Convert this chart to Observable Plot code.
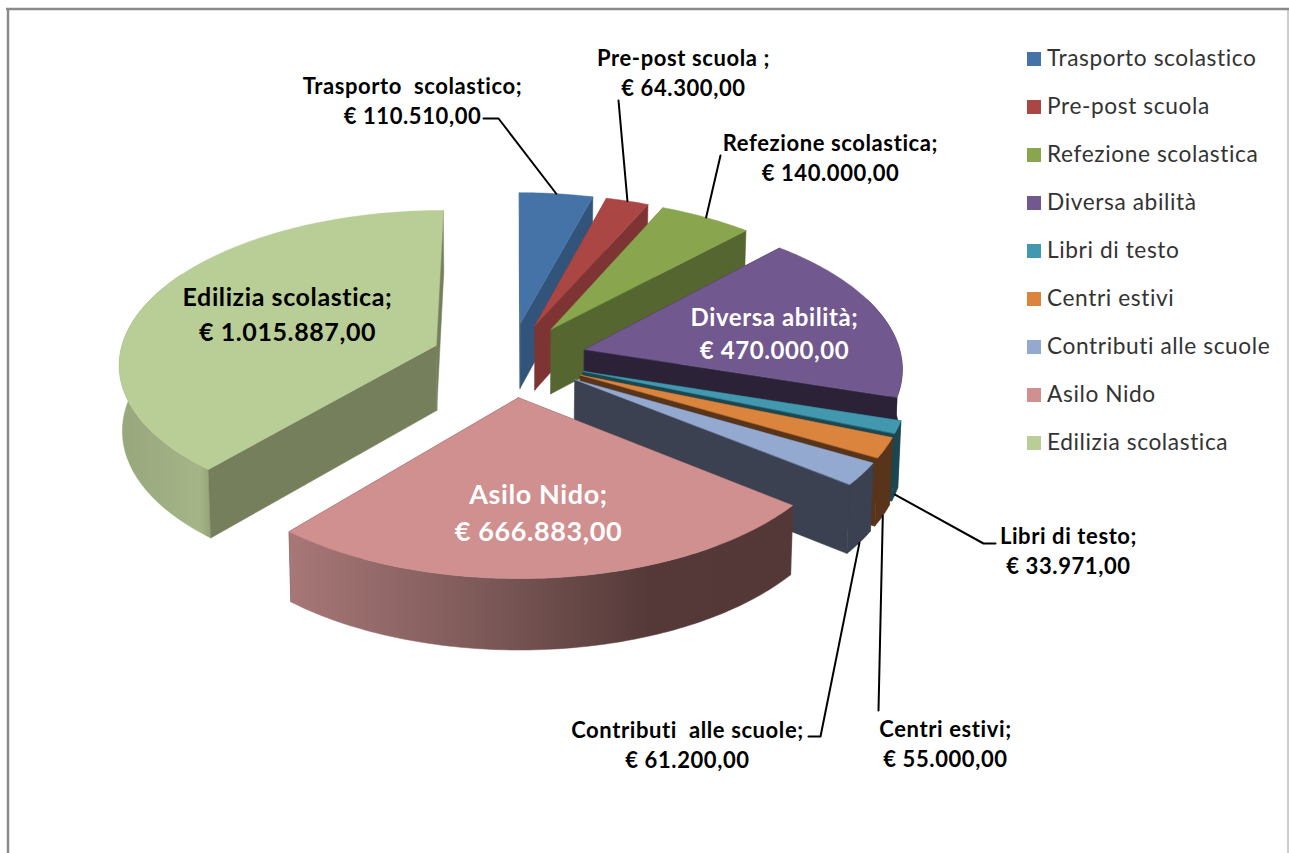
<!DOCTYPE html>
<html><head><meta charset="utf-8">
<script src="https://cdn.jsdelivr.net/npm/d3@7"></script>
<script src="https://cdn.jsdelivr.net/npm/@observablehq/plot@0.6"></script>
<style>html,body{margin:0;background:#fff}svg{display:block}</style>
</head><body><div id="chart"></div>
<script>
const names = ["Trasporto scolastico","Pre-post scuola","Refezione scolastica","Diversa abilità","Libri di testo","Centri estivi","Contributi alle scuole","Asilo Nido","Edilizia scolastica"];
const labelNames = ["Trasporto  scolastico;","Pre-post scuola ;","Refezione scolastica;","Diversa abilità;","Libri di testo;","Centri estivi;","Contributi  alle scuole;","Asilo Nido;","Edilizia scolastica;"];
const values = [110510,64300,140000,470000,33971,55000,61200,666883,1015887];
const topColors = ["#4572a7","#aa4643","#89a54e","#71588f","#4198af","#db843d","#93a9cf","#d09090","#b9cd96"];
const wallColors = ["#32547b","#7d3432","#556630","#2c2238","#1c4650","#58341a","#3b4150","#533837","#757f5b"];
const explosion = [75,75,75,77,77,77,77,80,80];
// layout of the labels: text centre, font size, colour, leader bend points
const labelAt = [[412,99],[683,71],[830,156],[774,331],[1068,549],[945,742],[687,743],[538,510],[287,312]];
const labelSize = [22,22,22,24,22,22,22,27,25];
const labelFill = ["#000","#000","#000","#fff","#000","#000","#000","#fff","#000"];
const leaderBends = [[[483,118],[498,118]],[[618,100]],[[720,155]],[],[[995,543],[983,543]],[[878,710]],[[808,736],[820,736]],[],[]];
const leaderFoot = [0,0,0,null,1,1,1,null,null]; // 0: top rim, 1: bottom rim

const cx=510, cy=358, R=317, tilt=0.48, persp=0.00034, depth=65.5, shrink=0.992;
const rad = Math.PI/180;
const total = d3.sum(values);
let acc=0;
const slices = values.map((v,i)=>{const a0=acc/total*360; acc+=v; const a1=acc/total*360; return {i,a0,a1,mid:(a0+a1)/2,e:explosion[i]};});

function project(s,ang,r,low){
  const X=r*Math.sin(ang*rad)+s.e*Math.sin(s.mid*rad);
  const Y=r*Math.cos(ang*rad)+s.e*Math.cos(s.mid*rad);
  const k=1/(1+persp*Y);
  return low ? [cx+X*k*shrink, cy-tilt*Y*k+depth*Math.pow(k,0.6)] : [cx+X*k, cy-tilt*Y*k];
}
function arc(s,a0,a1,low){
  const n=Math.max(2,Math.ceil(Math.abs(a1-a0)));
  return d3.range(n+1).map(j=>project(s,a0+(a1-a0)*j/n,R,low));
}
const rimMin=70, rimMax=300;
const grads={7:"rimAsilo",8:"rimEdilizia"};
const polygon=(pts,fill)=>Plot.line(pts,{x:d=>d[0],y:d=>d[1],curve:"linear-closed",fill,stroke:fill,strokeWidth:0.5});

const sliceMarks = slices.flatMap(s=>{
  const wall=wallColors[s.i];
  const wallMark=ang=>polygon([project(s,0,0,false),project(s,ang,R,false),project(s,ang,R,true),project(s,0,0,true)],wall);
  const faces=[[s.a0,s.a0-90],[s.a1,s.a1+90]];
  const back=faces.filter(f=>Math.cos(f[1]*rad)>=-1e-6).map(f=>wallMark(f[0]));
  const front=faces.filter(f=>Math.cos(f[1]*rad)<-1e-6).map(f=>wallMark(f[0]));
  const r0=Math.max(s.a0,rimMin), r1=Math.min(s.a1,rimMax);
  const rim=r1>r0?[polygon([...arc(s,r0,r1,false),...arc(s,r1,r0,true)],grads[s.i]?`url(#${grads[s.i]})`:wall)]:[];
  return [...back,...rim,...front,polygon([project(s,0,0,false),...arc(s,s.a0,s.a1,false)],topColors[s.i])];
});

const fmt=d3.formatLocale({decimal:",",thousands:".",grouping:[3],currency:["€ ",""]}).format("$,.2f");
const labels=slices.map(s=>({text:labelNames[s.i]+"\n"+fmt(values[s.i]),x:labelAt[s.i][0],y:labelAt[s.i][1],size:labelSize[s.i],fill:labelFill[s.i]}));
const leaders=slices.filter(s=>leaderFoot[s.i]!==null).map(s=>[...leaderBends[s.i],project(s,s.mid,R,leaderFoot[s.i]===1)]);
const legend=names.map((n,i)=>({n,i,y:58.5+48*i}));

const defs=()=>{
  const d=d3.create("svg:defs");
  const mk=(id,stops)=>{const g=d.append("linearGradient").attr("id",id);stops.forEach(([o,c])=>g.append("stop").attr("offset",o).attr("stop-color",c));};
  mk("rimAsilo",[[0,"#a87777"],[0.4,"#7b5857"],[0.72,"#543938"],[1,"#533837"]]);
  mk("rimEdilizia",[[0,"#98a67c"],[0.88,"#a5b587"],[1,"#93a377"]]);
  return d.node();
};

const chart=Plot.plot({
  width:1289,height:853,margin:0,
  x:{domain:[0,1289],range:[0,1289],axis:null},
  y:{domain:[0,853],range:[0,853],axis:null},
  style:{background:"#fff",fontFamily:"Lato",letterSpacing:"0.6px"},
  marks:[
    defs,
    Plot.ruleX([7.5],{y1:8,y2:853,stroke:"#8a8a8a",strokeWidth:2.5}),
    Plot.ruleX([1287.5],{y1:8,y2:853,stroke:"#bdbdbd",strokeWidth:1.5}),
    Plot.ruleY([8.5],{x1:6,x2:1289,stroke:"#8a8a8a",strokeWidth:2.5}),
    ...sliceMarks,
    ...leaders.map(p=>Plot.line(p,{x:d=>d[0],y:d=>d[1],stroke:"#000",strokeWidth:2})),
    Plot.text(labels,{x:"x",y:"y",text:"text",fontSize:"size",fill:"fill",fontWeight:"bold",lineHeight:1.38,textAnchor:"middle"}),
    Plot.dot(legend,{x:()=>1033.5,y:"y",symbol:"square",r:7.9,fill:d=>topColors[d.i]}),
    Plot.text(legend,{x:()=>1046.5,y:"y",text:"n",textAnchor:"start",fontSize:22.7,fill:"#333"})
  ]
});
document.getElementById("chart").appendChild(chart);
</script></body></html>
